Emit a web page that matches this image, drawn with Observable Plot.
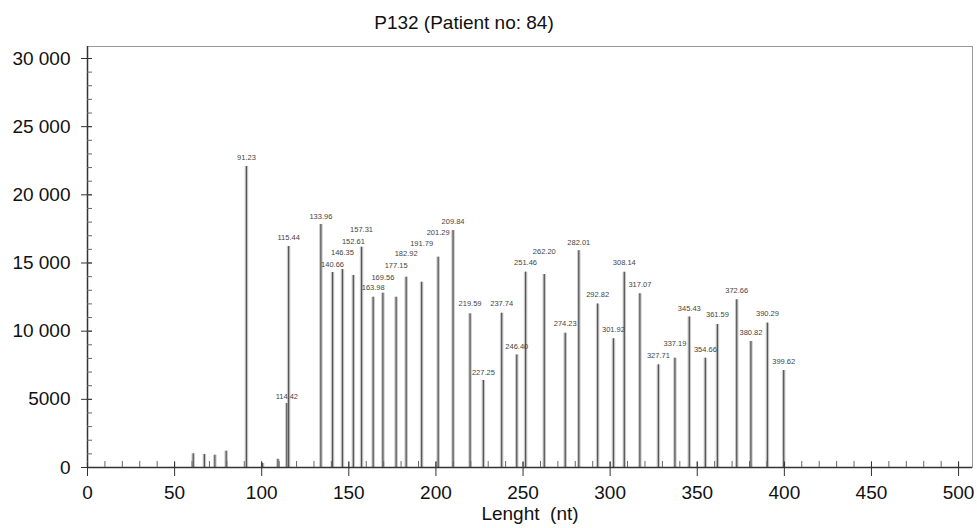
<!DOCTYPE html>
<html><head><meta charset="utf-8">
<script src="https://cdn.jsdelivr.net/npm/d3@7"></script>
<script src="https://cdn.jsdelivr.net/npm/@observablehq/plot@0.6"></script>
<style>
body{margin:0;background:#fff;}
#wrap{position:relative;width:977px;height:528px;overflow:hidden;}
#title{position:absolute;left:0;top:0;width:928px;height:40px;line-height:46px;text-align:center;font-family:'Liberation Sans',Arial,sans-serif;font-size:19px;color:#111;}
#chart{position:absolute;left:0;top:40px;}
</style></head>
<body><div id="wrap"><div id="title">P132 (Patient no: 84)</div><div id="chart"></div></div>
<script>
// Peak sizes (nt) and heights (RFU)
const sizes = [60.7, 67.1, 73.1, 79.6, 91.23, 100.5, 109.3, 114.42, 115.44, 133.96, 140.66, 146.35, 152.61, 157.31, 163.98, 169.56, 177.15, 182.92, 191.79, 201.29, 209.84, 219.59, 227.25, 237.74, 246.40, 251.46, 262.20, 274.23, 282.01, 292.82, 301.92, 308.14, 317.07, 327.71, 337.19, 345.43, 354.66, 361.59, 372.66, 380.82, 390.29, 399.62];
const heights = [1000, 950, 900, 1200, 22080, 300, 600, 4700, 16210, 17820, 14300, 14520, 14080, 16160, 12490, 12790, 12490, 13960, 13590, 15430, 17380, 11270, 6380, 11320, 8260, 14330, 14160, 9850, 15900, 12000, 9440, 14330, 12740, 7530, 8020, 11030, 8020, 10490, 12300, 9240, 10590, 7110];
// Peak labels and the level (RFU) at which each label sits
const labelText = ["91.23","114.42","115.44","133.96","140.66","146.35","152.61","157.31","163.98","169.56","177.15","182.92","191.79","201.29","209.84","219.59","227.25","237.74","246.40","251.46","262.20","274.23","282.01","292.82","301.92","308.14","317.07","327.71","337.19","345.43","354.66","361.59","372.66","380.82","390.29","399.62"];
const labelLevel = [22760, 5230, 16850, 18410, 14890, 15790, 16600, 17460, 13200, 13960, 14820, 15670, 16450, 17260, 18070, 12010, 6990, 12050, 8900, 15010, 15860, 10590, 16530, 12690, 10100, 15040, 13420, 8240, 9070, 11640, 8630, 11220, 12980, 9880, 11270, 7780];
// Axis ticks
const yMajor = [0, 5000, 10000, 15000, 20000, 25000, 30000];
const yTickLabels = ["0", "5000", "10 000", "15 000", "20 000", "25 000", "30 000"];
const yMinor = d3.range(0, 30001, 1000);
const xMajor = [0, 50, 100, 150, 200, 250, 300, 350, 400, 450, 500];
const xMinor = d3.range(0, 501, 10);
const xTitle = "Lenght\u00a0 (nt)";

const FONT = "'Liberation Sans',Arial,sans-serif";
const peaks = sizes.map((s, i) => ({size: s, height: heights[i]}));
const labels = labelText.map((t, i) => ({size: +t, level: labelLevel[i], text: t}));

const chart = Plot.plot({
  width: 977, height: 488,
  marginTop: 6, marginBottom: 61, marginLeft: 87, marginRight: 5,
  x: {domain: [0, 508]},
  y: {domain: [0, 30880]},
  style: {fontFamily: FONT, fontSize: "19px", color: "#111", background: "#fff"},
  marks: [
    Plot.frame({stroke: "#999"}),
    Plot.ruleX(peaks, {x: "size", y1: 0, y2: "height", stroke: "#c8c8c8", strokeWidth: 3.5}),
    Plot.ruleX(peaks, {x: "size", y1: 0, y2: "height", stroke: "#555", strokeWidth: 1.2}),
    Plot.text(labels, {x: "size", y: "level", text: "text", fontSize: 7.5, fill: "#444"}),
    Plot.ruleY([0], {stroke: "#333", strokeWidth: 1.5}),
    Plot.ruleX([0], {stroke: "#333", strokeWidth: 1.5}),
    Plot.axisY({ticks: yMinor, tickSize: 5, dx: 5, text: null, label: null, stroke: "#666"}),
    Plot.axisY({ticks: yMajor, tickSize: 11, dx: 5, text: null, label: null, stroke: "#333"}),
    Plot.axisY({ticks: yMajor, tickSize: 0, tickPadding: 17, tickFormat: d => yTickLabels[yMajor.indexOf(d)], label: null}),
    Plot.axisX({ticks: xMinor, tickSize: 6, dy: -6, text: null, label: null, stroke: "#666"}),
    Plot.axisX({ticks: xMajor, tickSize: 14, dy: -5, text: null, label: null, stroke: "#333"}),
    Plot.axisX({ticks: xMajor, tickSize: 0, tickPadding: 18, label: null}),
    Plot.text([xTitle], {frameAnchor: "bottom", dy: 52, fontSize: 19, fill: "#111"})
  ]
});
document.getElementById("chart").appendChild(chart);
</script>
</body></html>
